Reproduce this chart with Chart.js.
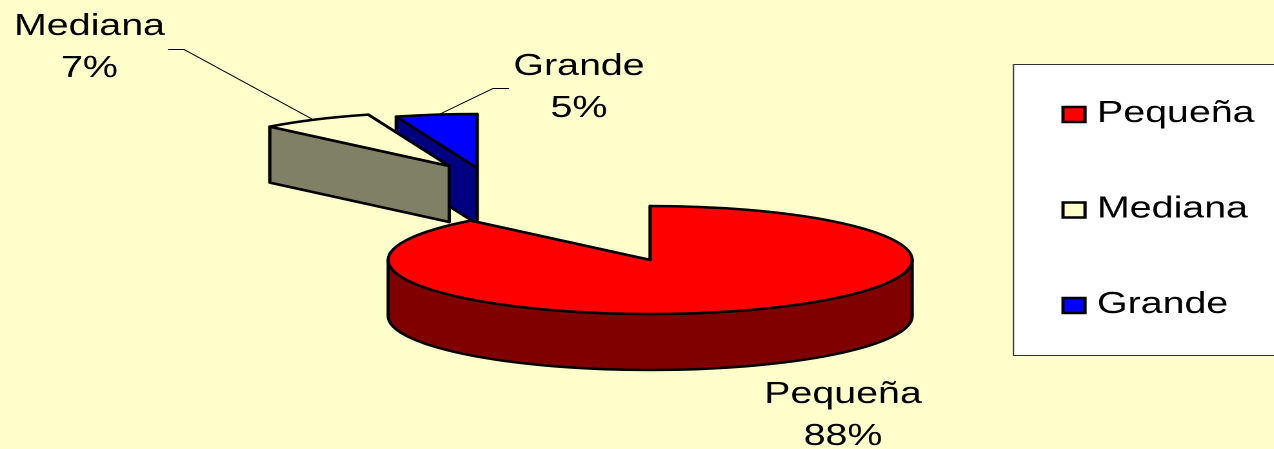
<!DOCTYPE html>
<html>
<head>
<meta charset="utf-8">
<script src="https://cdn.jsdelivr.net/npm/chart.js@4"></script>
<style>
  html, body { margin: 0; padding: 0; background: #FFFFCC; overflow: hidden; }
  canvas { position: absolute; left: 0; top: 0; transform-origin: 0 0; transform: scaleX(1.29); }
</style>
</head>
<body>
<canvas id="pie" width="988" height="449"></canvas>
<script>
const categories = ["Pequeña", "Mediana", "Grande"];
const percents = [88, 7, 5];
const topColors = ["#FF0000", "#FFFFCC", "#0000FF"];
const sideColors = ["#800000", "#808066", "#000080"];

// the picture is wider than tall, everything below is given in screen px
const STRETCH = 1.29;
const sx = x => x / STRETCH;
const TILT = 54 / 203;
const DEPTH = 56;

// how far each slice is pulled out of the pie
const pullX = [0, sx(-201), sx(-173)];
const pullY = [0, -94, -92];

// label centre x, baseline of first line
const labelX = [843, 89.5, 579];
const labelY = [403, 35, 75];

//Draw the pie as a tilted 3D one from the arc elements
const pie3d = {
  id: "pie3d",
  beforeDraw(chart) {
    const ctx = chart.ctx;
    // legend box, runs off the right edge
    ctx.save();
    ctx.fillStyle = "#FFFFFF";
    ctx.strokeStyle = "#333333";
    ctx.lineWidth = 1;
    ctx.beginPath();
    ctx.rect(sx(1013.5), 64.5, sx(300), 291);
    ctx.fill();
    ctx.stroke();
    ctx.restore();
  },
  beforeDatasetsDraw(chart) {
    const ctx = chart.ctx;
    const arcs = chart.getDatasetMeta(0).data;
    ctx.save();
    ctx.strokeStyle = "#000000";
    ctx.lineWidth = 2.5;
    ctx.lineJoin = "round";
    for (let i = arcs.length - 1; i >= 0; i--) {
      const a = arcs[i];
      const cx = a.x + pullX[i];
      const cy = a.y + pullY[i];
      const r = a.outerRadius;
      const ry = r * TILT;
      const s = a.startAngle;
      const e = a.endAngle;
      ctx.fillStyle = sideColors[i];
      // cut faces, far one first
      [e, s].forEach(ang => {
        const px = cx + r * Math.cos(ang);
        const py = cy + ry * Math.sin(ang);
        ctx.beginPath();
        ctx.moveTo(cx, cy);
        ctx.lineTo(px, py);
        ctx.lineTo(px, py + DEPTH);
        ctx.lineTo(cx, cy + DEPTH);
        ctx.closePath();
        ctx.fill();
        ctx.stroke();
      });
      // outer wall, only the front half shows
      const from = Math.max(s, 0);
      const to = Math.min(e, Math.PI);
      if (from < to) {
        ctx.beginPath();
        ctx.ellipse(cx, cy, r, ry, 0, from, to);
        ctx.ellipse(cx, cy + DEPTH, r, ry, 0, to, from, true);
        ctx.closePath();
        ctx.fill();
        ctx.stroke();
      }
      // top
      ctx.fillStyle = topColors[i];
      ctx.beginPath();
      ctx.moveTo(cx, cy);
      ctx.ellipse(cx, cy, r, ry, 0, s, e);
      ctx.closePath();
      ctx.fill();
      ctx.stroke();
    }
    ctx.restore();
    return false;
  },
  afterDraw(chart) {
    const ctx = chart.ctx;
    ctx.save();
    // leader lines
    ctx.strokeStyle = "#000000";
    ctx.lineWidth = 1;
    ctx.beginPath();
    ctx.moveTo(sx(168), 49.5);
    ctx.lineTo(sx(184), 49.5);
    ctx.lineTo(sx(312), 119);
    ctx.moveTo(sx(440), 114);
    ctx.lineTo(sx(493), 88.5);
    ctx.lineTo(sx(509), 88.5);
    ctx.stroke();
    // data labels
    ctx.fillStyle = "#000000";
    ctx.font = "30.5px 'Liberation Sans'";
    ctx.textAlign = "center";
    ctx.textBaseline = "alphabetic";
    categories.forEach((name, i) => {
      ctx.fillText(name, sx(labelX[i]), labelY[i]);
      ctx.fillText(percents[i] + "%", sx(labelX[i]), labelY[i] + 42);
    });
    // legend
    ctx.textAlign = "left";
    categories.forEach((name, i) => {
      const y = 107 + i * 95.5;
      ctx.fillStyle = topColors[i];
      ctx.strokeStyle = "#000000";
      ctx.lineWidth = 2.5;
      ctx.beginPath();
      ctx.rect(sx(1063), y, sx(22), 15);
      ctx.fill();
      ctx.stroke();
      ctx.fillStyle = "#000000";
      ctx.fillText(name, sx(1097), y + 15);
    });
    ctx.restore();
  }
};

new Chart(document.getElementById("pie"), {
  type: "pie",
  data: {
    labels: categories,
    datasets: [{ data: percents, backgroundColor: topColors, borderColor: "#000000", radius: sx(262) }]
  },
  options: {
    responsive: false,
    animation: false,
    devicePixelRatio: 2,
    layout: { padding: { left: 20, top: 71 } },
    plugins: { legend: { display: false }, tooltip: { enabled: false } }
  },
  plugins: [pie3d]
});
</script>
</body>
</html>
